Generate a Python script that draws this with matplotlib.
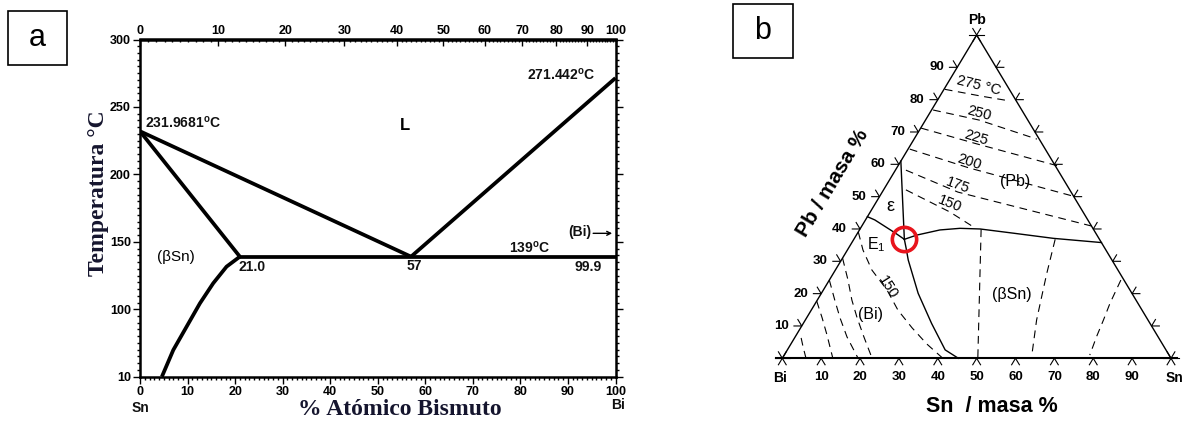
import numpy as np
import matplotlib.pyplot as plt
from matplotlib.patches import Rectangle
from matplotlib.ticker import FixedLocator, MultipleLocator

plt.rcParams['font.family'] = ['Liberation Sans', 'DejaVu Sans']
plt.rcParams['mathtext.fontset'] = 'custom'
plt.rcParams['mathtext.rm'] = 'Liberation Sans'
plt.rcParams['mathtext.bf'] = 'Liberation Sans:bold'
plt.rcParams['mathtext.it'] = 'Liberation Sans:italic'

# ---------------- (a) Sn-Bi binary diagram ----------------
bottom_ticks = [0, 10, 20, 30, 40, 50, 60, 70, 80, 90, 100]
top_ticks = [0, 10, 20, 30, 40, 50, 60, 70, 80, 90, 100]
temp_ticks = [50, 100, 150, 200, 250, 300]
temp_labels = ['10', '100', '150', '200', '250', '300']

t_melt_sn = 231.9681
t_melt_bi = 271.442
t_eutectic = 139
x_eutectic = 57
x_sn_max = 21.0
x_bi_min = 99.9

liq_sn_x = [0, x_eutectic]
liq_sn_t = [t_melt_sn, t_eutectic]
liq_bi_x = [x_eutectic, 100]
liq_bi_t = [t_eutectic, t_melt_bi]
solidus_x = [0, x_sn_max]
solidus_t = [t_melt_sn, t_eutectic]
eut_x = [x_sn_max, 100]
eut_t = [t_eutectic, t_eutectic]
solvus_x = [21.0, 18.2, 15.4, 12.6, 9.8, 7.0, 4.6]
solvus_t = [139, 131.6, 119.3, 104.4, 87.1, 69.8, 50]

M_BI, M_SN = 208.98, 118.71

# ---------------- (b) Bi-Sn-Pb ternary (Sn, Pb in mass %) ----------------
tern_ticks = [10, 20, 30, 40, 50, 60, 70, 80, 90]
e1_sn, e1_pb = 13.0, 36.8

eps_pb_sn = [0, e1_sn]
eps_pb_pb = [61.0, e1_pb]
eps_bi_sn = [0, 2.4, 9.6, e1_sn]
eps_bi_pb = [43.8, 42.8, 38.8, e1_pb]
bi_bsn_sn = [e1_sn, 14.8, 17.2, 24.9, 33.0, 40.6, 45.3]
bi_bsn_pb = [e1_pb, 34.1, 30.4, 20.1, 10.8, 2.6, 0]
pb_bsn_sn = [e1_sn, 15.5, 20.7, 25.6, 30.9, 40.1, 51.2, 64.2]
pb_bsn_pb = [e1_pb, 38.1, 39.7, 40.2, 40.0, 38.7, 37.1, 35.8]

# isotherms in the (Pb) field
iso_temps = ['275 °C', '250', '225', '200', '175', '150']
iso_sn = [[0.2, 11.1, 18.2], [0.4, 13.75, 31.6], [0.1, 16.6, 41.2],
          [0.45, 18.55, 50.65], [2.7, 19.5, 59.15], [5.75, 20.5, 29.45]]
iso_pb = [[83.2, 81.0, 79.7], [76.8, 73.7, 67.8], [71.2, 66.4, 59.5],
          [64.7, 58.9, 49.9], [58.2, 51.4, 40.9], [52.1, 45.25, 40.3]]

# isotherms in the (Bi) field
bi_iso_sn = [[0, 4.0, 9.4, 16.4, 22.3, 28.7, 35.0, 41.3],
             [0, 4.8, 8.9, 13.0, 17.7, 23.1],
             [0, 4.5, 8.6, 13.35, 19.5],
             [0, 4.0, 7.9, 13.0],
             [1.7, 3.6, 6.1]]
bi_iso_pb = [[39.1, 33.5, 27.3, 21.1, 14.9, 9.4, 4.4, 0],
             [31.0, 24.2, 18.0, 12.5, 6.6, 0],
             [24.2, 18.0, 12.5, 6.6, 0],
             [17.7, 12.5, 7.2, 0],
             [6.3, 3.5, 0]]

# isotherms in the (beta Sn) field
sn_iso_sn = [[31.2, 50.3], [51.8, 54.9, 57.2, 59.5, 63.7], [75.0, 75.8, 76.7, 77.5, 78.3, 78.6]]
sn_iso_pb = [[39.9, 0], [36.8, 26.3, 19.05, 11.85, 1.0], [24.2, 17.0, 11.85, 6.68, 2.57, 1.0]]


def wt_to_at(w):
    w = np.asarray(w, dtype=float)
    nb = w / M_BI
    ns = (100 - w) / M_SN
    with np.errstate(divide='ignore', invalid='ignore'):
        return 100 * nb / (nb + ns)


def at_to_wt(a):
    a = np.asarray(a, dtype=float)
    mb = a * M_BI
    ms = (100 - a) * M_SN
    with np.errstate(divide='ignore', invalid='ignore'):
        return 100 * mb / (mb + ms)


def tern(sn, pb):
    sn = np.asarray(sn, dtype=float)
    pb = np.asarray(pb, dtype=float)
    return sn + pb / 2, pb


W, H = 1188, 422
fig = plt.figure(figsize=(W / 100, H / 100), dpi=100)

# ---- panel a ----
ax = fig.add_axes([140 / W, 1 - 376.7 / H, 475.5 / W, 337.2 / H])
lw = 2.7
ax.plot(liq_sn_x, liq_sn_t, color='black', lw=lw, solid_capstyle='butt')
ax.plot(liq_bi_x, liq_bi_t, color='black', lw=lw, solid_capstyle='butt')
ax.plot(solidus_x, solidus_t, color='black', lw=lw, solid_capstyle='butt')
ax.plot(eut_x, eut_t, color='black', lw=lw, solid_capstyle='butt')
ax.plot(solvus_x, solvus_t, color='black', lw=lw, solid_capstyle='butt')

ax.set_xlim(0, 100)
ax.set_ylim(50, 300)
ax.set_xticks(bottom_ticks)
ax.set_yticks(temp_ticks)
ax.set_yticklabels(temp_labels)
ax.xaxis.set_minor_locator(MultipleLocator(1))
ax.yaxis.set_minor_locator(MultipleLocator(5))
ax.tick_params(which='both', direction='out', width=1.0, labelsize=9,
               right=True, top=False, pad=1.5)
ax.tick_params(which='major', length=5)
ax.tick_params(which='minor', length=2.5)
for lab in ax.get_xticklabels() + ax.get_yticklabels():
    lab.set_fontweight('bold')
for s in ax.spines.values():
    s.set_linewidth(1.8)

sec = ax.secondary_xaxis('top', functions=(wt_to_at, at_to_wt))
sec.set_xticks(top_ticks)
sec.xaxis.set_minor_locator(FixedLocator(list(range(0, 101))))
sec.tick_params(which='both', direction='in', width=1.0, labelsize=9, pad=1.5)
sec.tick_params(which='major', length=5)
sec.tick_params(which='minor', length=2.5)
for lab in sec.get_xticklabels():
    lab.set_fontweight('bold')
sec.spines['top'].set_linewidth(1.8)

ax.set_ylabel('Temperatura °C', family='Liberation Serif', weight='bold',
              fontsize=17, color='#15152e')
ax.yaxis.set_label_coords(-0.066, 0.543)
ax.set_xlabel('% Atómico Bismuto', family='Liberation Serif', weight='bold',
              fontsize=17, color='#15152e')
ax.xaxis.set_label_coords(0.547, -0.066)

tk = dict(fontsize=10, fontweight='bold', color='#111111')
ax.text(1.05, 238.1, '231.9681$^{\\mathbf{o}}$C', ha='left', va='center', **tk)
ax.text(95.7, 273.7, '271.442$^{\\mathbf{o}}$C', ha='right', va='center', **tk)
ax.text(55.7, 236.6, 'L', ha='center', va='center', fontsize=12, fontweight='bold')
ax.text(7.5, 139, '(βSn)', ha='center', va='center', fontsize=11)
ax.text(23.5, 131.6, '%.1f' % x_sn_max, ha='center', va='center', **tk)
ax.text(57.6, 132, '%d' % x_eutectic, ha='center', va='center', **tk)
ax.text(82, 145.6, '%d$^{\\mathbf{o}}$C' % t_eutectic, ha='center', va='center', **tk)
ax.text(94.2, 131.6, '%.1f' % x_bi_min, ha='center', va='center', **tk)
ax.annotate('', xy=(99.3, 156.3), xytext=(95.3, 156.3),
            arrowprops=dict(arrowstyle='->', lw=1.0, color='black',
                            shrinkA=0, shrinkB=0, mutation_scale=7))
ax.text(95.0, 157, '(Bi)', ha='right', va='center', **tk)
ax.text(0, -0.093, 'Sn', transform=ax.transAxes, ha='center', va='center', **tk)
ax.text(1.005, -0.084, 'Bi', transform=ax.transAxes, ha='center', va='center', **tk)

# ---- panel b ----
bx = fig.add_axes([782.3 / W, 1 - 358.3 / H, 388.7 / W, 323.3 / H])
bx.set_xlim(0, 100)
bx.set_ylim(0, 100)
bx.axis('off')
thin = 1.0
bx.plot([0, 50, 100], [0, 100, 0], color='black', lw=thin, clip_on=False)
bx.plot([-1.5, 101.5], [0, 0], color='black', lw=1.5, clip_on=False)

t = 2.0
for v in tern_ticks:
    # base (Sn axis)
    bx.plot([v - 0.5 * t, v, v + 0.5 * t], [-t, 0, -t], color='black', lw=0.8, clip_on=False)
    # left edge (Pb axis)
    px, py = tern(0, v)
    bx.plot([px - t, px, px - 0.5 * t], [py, py, py + t], color='black', lw=0.8, clip_on=False)
    # right edge
    px, py = tern(100 - v, v)
    bx.plot([px + t, px, px + 0.5 * t], [py, py, py + t], color='black', lw=0.8, clip_on=False)
    bx.text(v, -5.8, str(v), ha='center', va='center', fontsize=9.5, fontweight='bold')
    lx, ly = tern(0, v)
    bx.text(lx - 3.4, ly, str(v), ha='right', va='center', fontsize=9.5, fontweight='bold')

for vx, vy in [(0, 0), (100, 0), (50, 100)]:
    bx.plot([vx - t, vx + t], [vy, vy], color='black', lw=0.8, clip_on=False)
    bx.plot([vx - 0.5 * t, vx + 0.5 * t], [vy - t, vy + t], color='black', lw=0.8, clip_on=False)
    bx.plot([vx + 0.5 * t, vx - 0.5 * t], [vy - t, vy + t], color='black', lw=0.8, clip_on=False)

for sn, pb in [(eps_pb_sn, eps_pb_pb), (eps_bi_sn, eps_bi_pb),
               (bi_bsn_sn, bi_bsn_pb), (pb_bsn_sn, pb_bsn_pb)]:
    x, y = tern(sn, pb)
    bx.plot(x, y, color='black', lw=1.0, clip_on=False)

dash = dict(color='black', lw=0.8, dashes=(7, 5), clip_on=False)
for sn, pb in zip(iso_sn + bi_iso_sn + sn_iso_sn, iso_pb + bi_iso_pb + sn_iso_pb):
    x, y = tern(sn, pb)
    bx.plot(x, y, **dash)

ex, ey = tern(e1_sn, e1_pb)
bx.plot([ex], [ey], marker='o', ms=17.5, mfc='none', mec='#e8141c', mew=2.6, clip_on=False)

iso_lab_x = [50.6, 50.6, 49.8, 48.0, 45.2, 43.1]
iso_lab_y = [84.5, 75.9, 68.2, 60.6, 53.5, 47.9]
iso_lab_rot = [-14, -15, -17, -18, -20, -22]
for lab, x, y, r in zip(iso_temps, iso_lab_x, iso_lab_y, iso_lab_rot):
    bx.text(x, y, lab, ha='center', va='center', rotation=r, fontsize=10.5)

bx.text(59.9, 54.6, '(Pb)', ha='center', va='center', fontsize=11.5)
bx.text(27.7, 46.9, 'ε', ha='center', va='center', fontsize=13)
bx.text(24.3, 35.0, 'E$_\\mathregular{1}$', ha='center', va='center', fontsize=11.5)
bx.text(22.7, 13.5, '(Bi)', ha='center', va='center', fontsize=11.5)
bx.text(27.2, 22.0, '150', ha='center', va='center', rotation=-58, fontsize=10.5)
bx.text(59.0, 19.6, '(βSn)', ha='center', va='center', fontsize=11.5)

bx.text(50, 104.7, 'Pb', ha='center', va='center', fontsize=10, fontweight='bold')
bx.text(-0.6, -6.2, 'Bi', ha='center', va='center', fontsize=10, fontweight='bold')
bx.text(101, -6.1, 'Sn', ha='center', va='center', fontsize=10, fontweight='bold')
bx.text(53.9, -15, 'Sn  / masa %', ha='center', va='center', fontsize=15.5, fontweight='bold')
bx.text(13.0, 54.3, 'Pb / masa %', ha='center', va='center', rotation=59,
        fontsize=15, fontweight='bold')

# ---- panel tags ----
for (x0, y0, x1, y1, tag) in [(8, 11, 67, 65, 'a'), (733, 4, 793, 58, 'b')]:
    fig.add_artist(Rectangle((x0 / W, 1 - y1 / H), (x1 - x0) / W, (y1 - y0) / H,
                             transform=fig.transFigure, fill=False, lw=1.2, ec='black'))
    fig.text((x0 + x1) / 2 / W, 1 - (y0 + y1) / 2 / H, tag, ha='center', va='center',
             fontsize=22)

fig.savefig('out.png', dpi=100)
